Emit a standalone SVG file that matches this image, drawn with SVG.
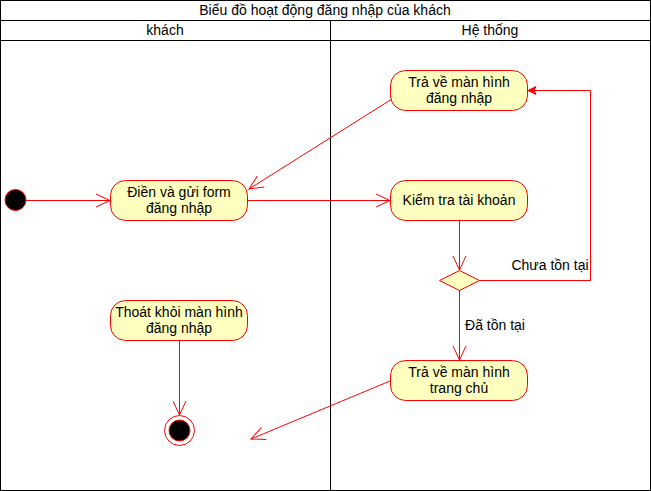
<svg xmlns="http://www.w3.org/2000/svg" width="651" height="491" viewBox="0 0 651 491">
<style>
text{font-family:"Liberation Sans",Arial,sans-serif;font-size:14px;fill:#000;text-anchor:middle}
.act{fill:#ffffc0;stroke:#ff0000;stroke-width:1}
.edge{fill:none;stroke:#ff0000;stroke-width:1}
.frame{fill:none;stroke:#000;stroke-width:1}
</style>
<defs>
<marker id="open" markerUnits="userSpaceOnUse" markerWidth="16" markerHeight="16" viewBox="0 0 16 16" refX="15" refY="8" orient="auto">
<path d="M1,1.5 L15,8 L1,14.5" fill="none" stroke="#ff0000" stroke-width="1"/>
</marker>
<marker id="block" markerUnits="userSpaceOnUse" markerWidth="10" markerHeight="10" viewBox="0 0 10 10" refX="9" refY="5" orient="auto">
<path d="M1,1 L9,5 L1,9 L3,5 Z" fill="#ff0000" stroke="#ff0000" stroke-width="1"/>
</marker>
</defs>
<rect width="651" height="491" fill="#fff"/>
<g id="pool">
<rect class="frame" x="0.5" y="0.5" width="650" height="490"/>
<line class="frame" x1="0.5" y1="20.5" x2="650.5" y2="20.5"/>
<line class="frame" x1="0.5" y1="40.5" x2="650.5" y2="40.5"/>
<line class="frame" x1="330.5" y1="20.5" x2="330.5" y2="490.5"/>
<text x="325" y="15">Biểu đồ hoạt động đăng nhập của khách</text>
<text x="165" y="35">khách</text>
<text x="490" y="35">Hệ thống</text>
</g>
<g id="edges">
<line class="edge" x1="26" y1="200.5" x2="110" y2="200.5" marker-end="url(#open)"/>
<line class="edge" x1="248" y1="200.5" x2="390" y2="200.5" marker-end="url(#open)"/>
<line class="edge" x1="392" y1="99" x2="249" y2="189" marker-end="url(#open)"/>
<line class="edge" x1="459.5" y1="220" x2="459.5" y2="270" marker-end="url(#open)"/>
<polyline class="edge" points="479,280.5 590.5,280.5 590.5,90.5 528,90.5" marker-end="url(#block)"/>
<line class="edge" x1="459.5" y1="290" x2="459.5" y2="360" marker-end="url(#open)"/>
<line class="edge" x1="390" y1="381" x2="251" y2="439" marker-end="url(#open)"/>
<line class="edge" x1="179.5" y1="340" x2="179.5" y2="415" marker-end="url(#open)"/>
<text x="550" y="270">Chưa tồn tại</text>
<text x="495" y="329.5">Đã tồn tại</text>
</g>
<g id="start">
<circle cx="15.5" cy="200" r="10.5" fill="#000" stroke="#ff0000"/>
</g>
<g id="fill-form">
<rect class="act" x="110.5" y="180.5" width="137" height="40" rx="15"/>
<text x="179" y="196.8">Điền và gửi form</text>
<text x="179" y="212.8">đăng nhập</text>
</g>
<g id="back-login">
<rect class="act" x="390.5" y="70.5" width="137" height="40" rx="15"/>
<text x="459" y="86.8">Trả về màn hình</text>
<text x="459" y="102.8">đăng nhập</text>
</g>
<g id="check">
<rect class="act" x="390.5" y="180.5" width="137" height="40" rx="15"/>
<text x="459" y="205">Kiểm tra tài khoản</text>
</g>
<g id="decision">
<polygon class="act" points="459.5,270.5 479.5,280.5 459.5,290.5 439.5,280.5"/>
</g>
<g id="home">
<rect class="act" x="390.5" y="360.5" width="137" height="40" rx="15"/>
<text x="459" y="376.8">Trả về màn hình</text>
<text x="459" y="392.8">trang chủ</text>
</g>
<g id="exit">
<rect class="act" x="110.5" y="300.5" width="137" height="40" rx="15"/>
<text x="179" y="316.8">Thoát khỏi màn hình</text>
<text x="179" y="332.8">đăng nhập</text>
</g>
<g id="end">
<circle cx="179.5" cy="430.5" r="15" fill="#fff" stroke="#ff0000"/>
<circle cx="179.5" cy="430.5" r="10.5" fill="#000" stroke="#ff0000"/>
</g>
</svg>
